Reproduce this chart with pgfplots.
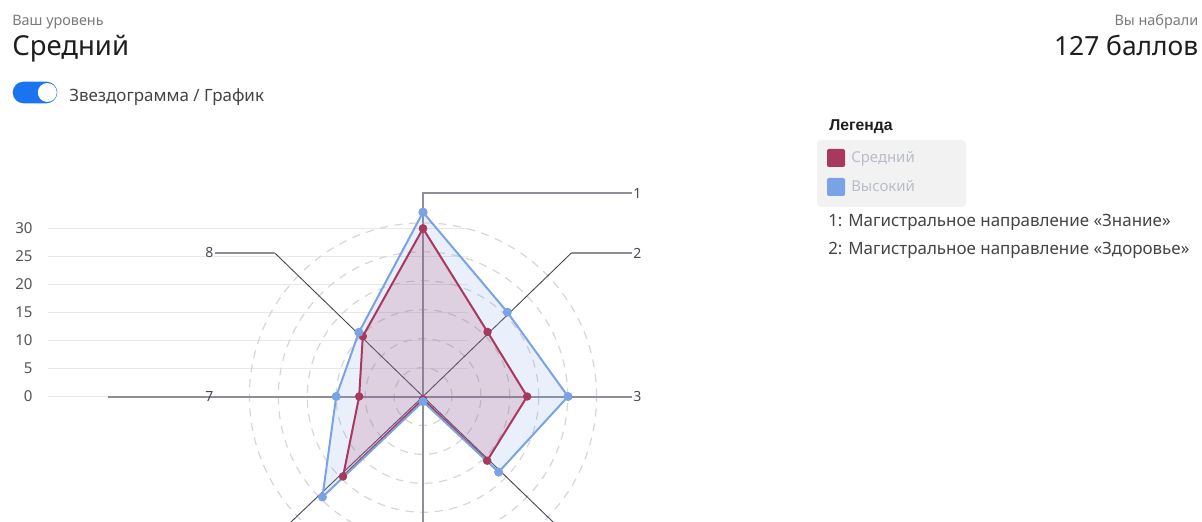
\documentclass[border=0pt]{standalone}
\usepackage{pgfplots}
\pgfplotsset{compat=1.18}
\usepgfplotslibrary{polar}
\usepackage{pgfplotstable}
\usepackage{fontspec}
\setmainfont{Noto Sans}
\newfontfamily\legfont{Liberation Sans}

\definecolor{redS}{HTML}{A8385D}
\definecolor{blueS}{HTML}{7AA3E5}
\definecolor{spokeG}{HTML}{8E8E9A}
\definecolor{spokeD}{HTML}{4A4A55}
\definecolor{gridG}{HTML}{E8E8E8}
\definecolor{circG}{HTML}{D6D6D6}
\definecolor{toggleB}{HTML}{1A73F0}
\definecolor{txtD}{HTML}{1E1E1E}
\definecolor{txtM}{HTML}{444444}
\definecolor{txtL}{HTML}{7A7A7A}
\definecolor{tickG}{HTML}{555555}
\definecolor{legBox}{HTML}{F2F2F2}
\definecolor{legTxt}{HTML}{B9BDCB}

% angle (deg), score
\pgfplotstableread{
ang r
90 30
45 16.3
0 18.6
-45 16.2
-90 0.5
-135 20.2
180 11.4
135 15.2
90 30
}\medium
\pgfplotstableread{
ang r
90 32.9
45 21.3
0 25.9
-45 19.1
-90 0.9
-135 25.4
180 15.5
135 16.2
90 32.9
}\high

\newcommand\fs[1]{\fontsize{#1}{#1}\selectfont}

\begin{document}
\begin{tikzpicture}
\begin{axis}[
  x=4.2pt, y=4.2pt,
  xmin=-75.536, xmax=139.107, ymin=-22.232, ymax=70.804,
  axis line style={draw=none},
  xtick=\empty,
  ytick={0,5,...,30},
  major tick length=0pt,
  yticklabel style={font=\fs{11.3pt}, text=tickG, anchor=east, inner sep=0pt, xshift=24.6pt},
  /pgf/number format/assume math mode=true,
  clip=false,
]
% horizontal grid lines
\pgfplotsinvokeforeach{0,5,...,30}{
  \draw[gridG, line width=1.1pt] (axis cs:-66.96,#1) -- (axis cs:8,#1);
}
% dashed circles
\pgfplotsinvokeforeach{1,...,6}{
  \draw[circG, line width=0.9pt, dash pattern=on 6pt off 5pt] (axis cs:0,0) circle[radius=5.1667*#1];
}
% spokes
\draw[spokeG, line width=1.5pt] (axis cs:0,0) -- (axis cs:0,36.25) -- (axis cs:37.32,36.25);
\draw[spokeD, line width=0.7pt] (axis cs:0,0) -- (axis cs:26.55,25.68);
\draw[spokeG, line width=1.5pt] (axis cs:26.55,25.68) -- (axis cs:37.32,25.68);
\draw[spokeG, line width=1.5pt] (axis cs:0,0) -- (axis cs:37.32,0);
\draw[spokeD, line width=0.7pt] (axis cs:0,0) -- (axis cs:45.7,-44.1);
\draw[spokeG, line width=1.5pt] (axis cs:0,0) -- (axis cs:0,-30);
\draw[spokeD, line width=0.7pt] (axis cs:0,0) -- (axis cs:-46.4,-44.1);
\draw[spokeG, line width=1.5pt] (axis cs:0,0) -- (axis cs:-56.25,0);
\draw[spokeD, line width=0.7pt] (axis cs:0,0) -- (axis cs:-26.52,25.68);
\draw[spokeG, line width=1.5pt] (axis cs:-26.52,25.68) -- (axis cs:-37.14,25.68);

% fills
\addplot[data cs=polar, draw=none, fill=blueS, fill opacity=0.17, forget plot] table[x=ang,y=r] {\high};
\addplot[data cs=polar, draw=none, fill=redS, fill opacity=0.17, forget plot] table[x=ang,y=r] {\medium};
% outlines
\addplot[data cs=polar, draw=redS, line width=1.5pt, line join=round, mark=*, mark size=2.4pt, mark options={fill=redS, draw=redS}] table[x=ang,y=r] {\medium};
\addplot[data cs=polar, draw=blueS, line width=1.5pt, line join=round, mark=*, mark size=2.6pt, mark options={fill=blueS, draw=blueS}] table[x=ang,y=r] {\high};
\end{axis}

\begin{scope}[shift={(current axis.north west)}, x=0.75pt, y=-0.75pt]
\node[anchor=base west, inner sep=0, text=txtL, font=\fs{10.8pt}] at (12,26) {Ваш уровень};
\node[anchor=base west, inner sep=0, text=txtD, font=\fs{20.6pt}] at (12,56) {Средний};
\fill[toggleB, rounded corners=8.1pt] (12.7,81.7) rectangle (57.3,103.3);
\fill[white] (47.3,92.5) circle[radius=7.1pt];
\node[anchor=base west, inner sep=0, text=txtM, font=\fs{12.7pt}] at (69,102) {Звездограмма / График};
\node[anchor=base east, inner sep=0, text=txtL, font=\fs{10.8pt}] at (1198.5,26) {Вы набрали};
\node[anchor=base east, inner sep=0, text=txtD, font=\fs{19.8pt}] at (1198.5,56) {127 баллов};

\node[anchor=base west, inner sep=0, text=txtD, font=\legfont\fs{11.8pt}\bfseries] at (829,130.5) {Легенда};
\fill[legBox, rounded corners=3pt] (817,140) rectangle (966,207);
\fill[redS, rounded corners=1.5pt] (827,149) rectangle (845,167);
\node[anchor=base west, inner sep=0, text=legTxt, font=\fs{11.2pt}] at (851,163) {Средний};
\fill[blueS, rounded corners=1.5pt] (827,178) rectangle (845,196);
\node[anchor=base west, inner sep=0, text=legTxt, font=\fs{11.2pt}] at (851,192) {Высокий};
\node[anchor=base west, inner sep=0, text=txtM, font=\fs{12.7pt}] at (828,227) {1: Магистральное направление «Знание»};
\node[anchor=base west, inner sep=0, text=txtM, font=\fs{12.7pt}] at (828,255) {2: Магистральное направление «Здоровье»};

\node[anchor=west, inner sep=0, text=spokeD, font=\fs{10.5pt}] at (633,193.5) {1};
\node[anchor=west, inner sep=0, text=spokeD, font=\fs{10.5pt}] at (633,253) {2};
\node[anchor=west, inner sep=0, text=spokeD, font=\fs{10.5pt}] at (633,396.5) {3};
\node[anchor=center, inner sep=0, text=spokeD, font=\fs{10.5pt}] at (209.5,253) {8};
\node[anchor=center, inner sep=0, text=spokeD, font=\fs{10.5pt}] at (209.5,396.5) {7};
\end{scope}
\pgfresetboundingbox
\path (current axis.south west) rectangle (current axis.north east);
\end{tikzpicture}
\end{document}
